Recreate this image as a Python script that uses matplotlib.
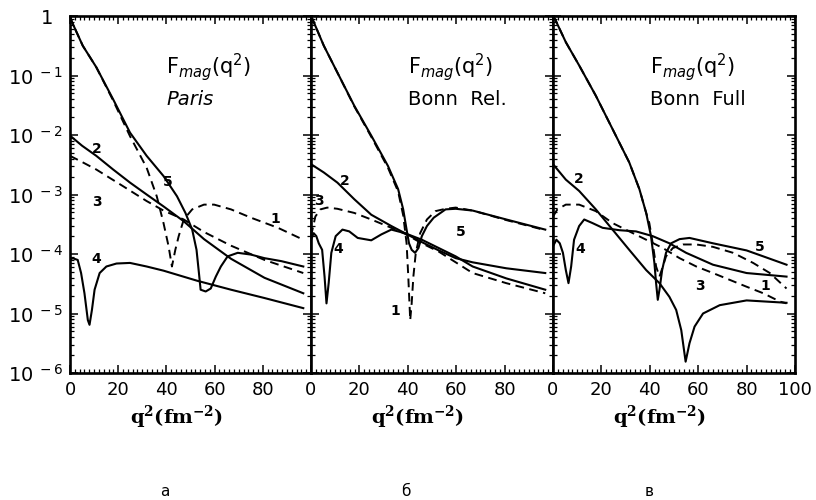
import numpy as np
import matplotlib
matplotlib.use("Agg")
import matplotlib.pyplot as plt
from matplotlib.ticker import FixedLocator, MultipleLocator, LogLocator, NullFormatter

# ---------------- data (q^2 in fm^-2, lg = log10 F_mag) ----------------
# Panel a : Paris
paris_q1 = [0, 0.8, 5.3, 10.9, 17.9, 24.9, 31.8, 36.0, 38.8, 40.9, 42.3, 43.7, 45.1, 47.2, 50.7, 55.6, 59.8, 66.8, 75.1, 86.3, 96.8]
paris_lg1 = [0, -0.10, -0.50, -0.86, -1.42, -2.02, -2.55, -3.03, -3.48, -3.87, -4.21, -3.93, -3.70, -3.42, -3.25, -3.17, -3.17, -3.25, -3.39, -3.56, -3.76]
paris_q2 = [0, 5.0, 10.9, 17.9, 24.9, 31.8, 38.8, 47.2, 55.6, 66.8, 80.7, 96.8]
paris_lg2 = [-2.01, -2.18, -2.35, -2.58, -2.80, -3.00, -3.20, -3.45, -3.75, -4.08, -4.40, -4.66]
paris_q3 = [0, 5.3, 10.9, 22.0, 31.8, 38.8, 47.2, 55.6, 66.8, 80.7, 96.8]
paris_lg3 = [-2.35, -2.46, -2.58, -2.86, -3.11, -3.27, -3.42, -3.63, -3.86, -4.10, -4.32]
paris_q4 = [0, 1.1, 3.2, 4.6, 6.0, 7.4, 8.1, 9.1, 10.2, 12.3, 15.1, 19.3, 24.9, 31.8, 38.8, 52.8, 66.8, 80.7, 96.8]
paris_lg4 = [-4.10, -4.07, -4.10, -4.32, -4.66, -5.11, -5.19, -4.94, -4.60, -4.32, -4.21, -4.16, -4.15, -4.21, -4.28, -4.45, -4.60, -4.74, -4.91]
paris_q5 = [0, 0.8, 5.3, 10.9, 17.9, 24.9, 31.8, 38.8, 44.4, 47.9, 50.7, 52.5, 53.5, 54.2, 56.3, 58.4, 60.5, 62.6, 65.4, 69.6, 75.1, 80.7, 87.7, 96.8]
paris_lg5 = [0, -0.10, -0.50, -0.86, -1.40, -1.96, -2.35, -2.69, -3.03, -3.31, -3.59, -3.93, -4.32, -4.60, -4.63, -4.58, -4.38, -4.21, -4.04, -3.98, -4.01, -4.07, -4.12, -4.21]

# Panel b : Bonn Rel.
rel_q1 = [0, 0.8, 5.3, 10.9, 17.9, 24.9, 31.8, 36.0, 38.1, 39.5, 40.2, 41.0, 41.6, 42.3, 43.3, 45.1, 47.9, 51.4, 55.6, 59.8, 66.8, 80.7, 96.8]
rel_lg1 = [0, -0.07, -0.50, -0.95, -1.52, -2.03, -2.55, -2.95, -3.35, -3.82, -4.38, -5.11, -4.83, -4.38, -3.98, -3.65, -3.42, -3.28, -3.24, -3.22, -3.27, -3.43, -3.60]
rel_q2 = [0, 5.3, 10.9, 17.9, 24.9, 33.2, 38.8, 45.8, 52.8, 59.8, 66.8, 80.7, 96.8]
rel_lg2 = [-2.49, -2.63, -2.80, -3.08, -3.34, -3.53, -3.65, -3.76, -3.90, -4.04, -4.21, -4.41, -4.60]
rel_q3 = [0, 1.8, 3.9, 6.7, 10.9, 17.9, 24.9, 33.2, 38.8, 45.8, 52.8, 66.8, 80.7, 96.8]
rel_lg3 = [-3.70, -3.37, -3.25, -3.22, -3.24, -3.31, -3.42, -3.56, -3.66, -3.82, -3.96, -4.32, -4.49, -4.66]
rel_q4 = [0, 1.1, 2.2, 3.2, 4.6, 5.6, 6.4, 7.3, 8.4, 10.2, 13.0, 15.8, 19.3, 24.9, 29.1, 33.2, 38.8, 45.8, 52.8, 59.8, 66.8, 80.7, 96.8]
rel_lg4 = [-3.76, -3.65, -3.70, -3.82, -3.93, -4.38, -4.83, -4.49, -3.98, -3.70, -3.59, -3.62, -3.73, -3.77, -3.67, -3.59, -3.65, -3.80, -3.94, -4.07, -4.14, -4.24, -4.32]
rel_q5 = [0, 0.8, 5.3, 10.9, 17.9, 24.9, 31.8, 36.0, 38.1, 39.5, 40.5, 41.6, 43.0, 44.4, 45.8, 47.9, 50.7, 55.6, 59.8, 66.8, 80.7, 96.8]
rel_lg5 = [0, -0.07, -0.50, -0.95, -1.51, -2.01, -2.52, -2.91, -3.25, -3.59, -3.82, -3.93, -3.98, -3.90, -3.70, -3.53, -3.39, -3.25, -3.24, -3.27, -3.42, -3.59]

# Panel c : Bonn Full
full_q1 = [0, 0.8, 5.3, 10.8, 17.7, 24.6, 31.5, 35.7, 38.5, 39.8, 41.2, 42.6, 44.0, 45.4, 46.7, 49.5, 53.7, 59.2, 66.1, 74.4, 82.7, 89.6, 96.5]
full_lg1 = [0, -0.05, -0.44, -0.83, -1.34, -1.90, -2.46, -2.91, -3.31, -3.48, -3.82, -4.21, -4.38, -4.21, -4.04, -3.90, -3.84, -3.84, -3.88, -3.98, -4.15, -4.32, -4.58]
full_q2 = [0, 5.3, 10.8, 17.7, 24.6, 31.5, 38.5, 44.0, 48.1, 50.9, 53.0, 54.8, 56.4, 58.5, 62.0, 68.9, 80.0, 96.5]
full_lg2 = [-2.49, -2.75, -2.94, -3.25, -3.59, -3.93, -4.27, -4.49, -4.72, -4.94, -5.28, -5.81, -5.50, -5.22, -5.00, -4.86, -4.78, -4.82]
full_q3 = [0, 1.8, 5.3, 10.8, 17.7, 24.6, 31.5, 38.5, 45.4, 52.3, 59.2, 66.1, 80.0, 86.9, 93.8, 96.5]
full_lg3 = [-3.37, -3.25, -3.17, -3.17, -3.28, -3.48, -3.62, -3.76, -3.90, -4.07, -4.21, -4.32, -4.55, -4.66, -4.80, -4.83]
full_q4 = [0, 1.4, 2.8, 4.1, 5.3, 6.4, 7.5, 8.7, 10.8, 12.9, 16.3, 20.5, 27.4, 34.3, 41.2, 48.1, 55.0, 66.1, 80.0, 96.5]
full_lg4 = [-3.87, -3.76, -3.82, -3.98, -4.27, -4.49, -4.21, -3.76, -3.53, -3.42, -3.48, -3.56, -3.60, -3.62, -3.70, -3.82, -3.98, -4.18, -4.32, -4.38]
full_q5 = [0, 0.8, 5.3, 10.8, 17.7, 24.6, 31.5, 35.7, 38.5, 40.5, 41.9, 42.6, 43.3, 44.0, 45.1, 46.7, 48.8, 52.3, 56.4, 66.1, 80.0, 86.9, 96.5]
full_lg5 = [0, -0.05, -0.44, -0.83, -1.34, -1.90, -2.46, -2.91, -3.31, -3.70, -4.15, -4.49, -4.77, -4.60, -4.27, -3.98, -3.82, -3.75, -3.73, -3.82, -3.94, -4.04, -4.18]

panel_titles = ["Paris", "Bonn  Rel.", "Bonn  Full"]
panel_title_styles = ["italic", "normal", "normal"]
panel_letters = ["а", "б", "в"]
y_tick_labels = [r"$\mathrm{10}^{\;-6}$", r"$\mathrm{10}^{\;-5}$", r"$\mathrm{10}^{\;-4}$",
                 r"$\mathrm{10}^{\;-3}$", r"$\mathrm{10}^{\;-2}$", r"$\mathrm{10}^{\;-1}$", "1\u2002"]

panels = [
    [(paris_q1, paris_lg1), (paris_q2, paris_lg2), (paris_q3, paris_lg3), (paris_q4, paris_lg4), (paris_q5, paris_lg5)],
    [(rel_q1, rel_lg1), (rel_q2, rel_lg2), (rel_q3, rel_lg3), (rel_q4, rel_lg4), (rel_q5, rel_lg5)],
    [(full_q1, full_lg1), (full_q2, full_lg2), (full_q3, full_lg3), (full_q4, full_lg4), (full_q5, full_lg5)],
]
dashed_curves = {1, 3}

# curve-number label positions (q, lg) per panel for curves 1..5
number_pos = [
    [(85, -3.41), (11, -2.24), (11, -3.13), (11, -4.08), (40.7, -2.79)],
    [(35, -4.96), (14.1, -2.77), (3.2, -3.11), (11.2, -3.92), (62, -3.63)],
    [(87.6, -4.54), (10.7, -2.74), (60.7, -4.54), (11.2, -3.92), (85.5, -3.88)],
]

# ---------------- figure ----------------
fig = plt.figure(figsize=(8.16, 5.0), dpi=100)
lefts = [70 / 816, 311 / 816, 553 / 816]
widths = [241 / 816, 242 / 816, 242 / 816]
bottom = 1 - 373 / 500
height = (373 - 16) / 500

for i in range(3):
    ax = fig.add_axes([lefts[i], bottom, widths[i], height])
    for k, (q, lg) in enumerate(panels[i]):
        num = k + 1
        F = np.power(10.0, np.array(lg))
        if num in dashed_curves:
            ax.plot(q, F, color="black", lw=1.4, dashes=(4.5, 2.8))
        else:
            ax.plot(q, F, color="black", lw=1.5)
        nq, nlg = number_pos[i][k]
        ax.text(nq, 10 ** nlg, str(num), fontsize=10, fontweight="bold",
                ha="center", va="center")

    ax.set_yscale("log")
    ax.set_xlim(0, 100)
    ax.set_ylim(1e-6, 1)

    if i < 2:
        ax.set_xticks([0, 20, 40, 60, 80])
    else:
        ax.set_xticks([0, 20, 40, 60, 80, 100])
    ax.xaxis.set_minor_locator(MultipleLocator(2))
    ax.yaxis.set_major_locator(FixedLocator(10.0 ** np.arange(-6, 1)))
    ax.yaxis.set_minor_locator(LogLocator(base=10, subs=np.arange(2, 10), numticks=20))
    ax.yaxis.set_minor_formatter(NullFormatter())
    if i == 0:
        ax.set_yticklabels(y_tick_labels, fontsize=14)
    else:
        ax.set_yticklabels([])
    ax.tick_params(axis="x", labelsize=13, pad=6)
    ax.tick_params(which="both", direction="in", top=True, right=True)
    ax.tick_params(which="major", length=6, width=1.1)
    ax.tick_params(which="minor", length=3, width=0.9)
    ax.tick_params(axis="y", pad=5)
    for s in ax.spines.values():
        s.set_linewidth(1.9)

    ax.text(40, 10 ** -0.86, r"$\mathrm{F}_{\mathit{mag}}\mathrm{(q^2)}$", fontsize=15,
            ha="left", va="center")
    ax.text(40, 10 ** -1.40, panel_titles[i], fontsize=14, style=panel_title_styles[i],
            ha="left", va="center")
    ax.text(0.44, -0.125, r"$\mathbf{q^2(fm^{-2})}$", transform=ax.transAxes,
            fontsize=14, ha="center", va="center", math_fontfamily="dejavuserif")

letter_x = [165 / 816, 406 / 816, 649 / 816]
for i in range(3):
    fig.text(letter_x[i], 1 - 492 / 500, panel_letters[i], fontsize=11,
             ha="center", va="center")

fig.savefig("out.png", dpi=100)
